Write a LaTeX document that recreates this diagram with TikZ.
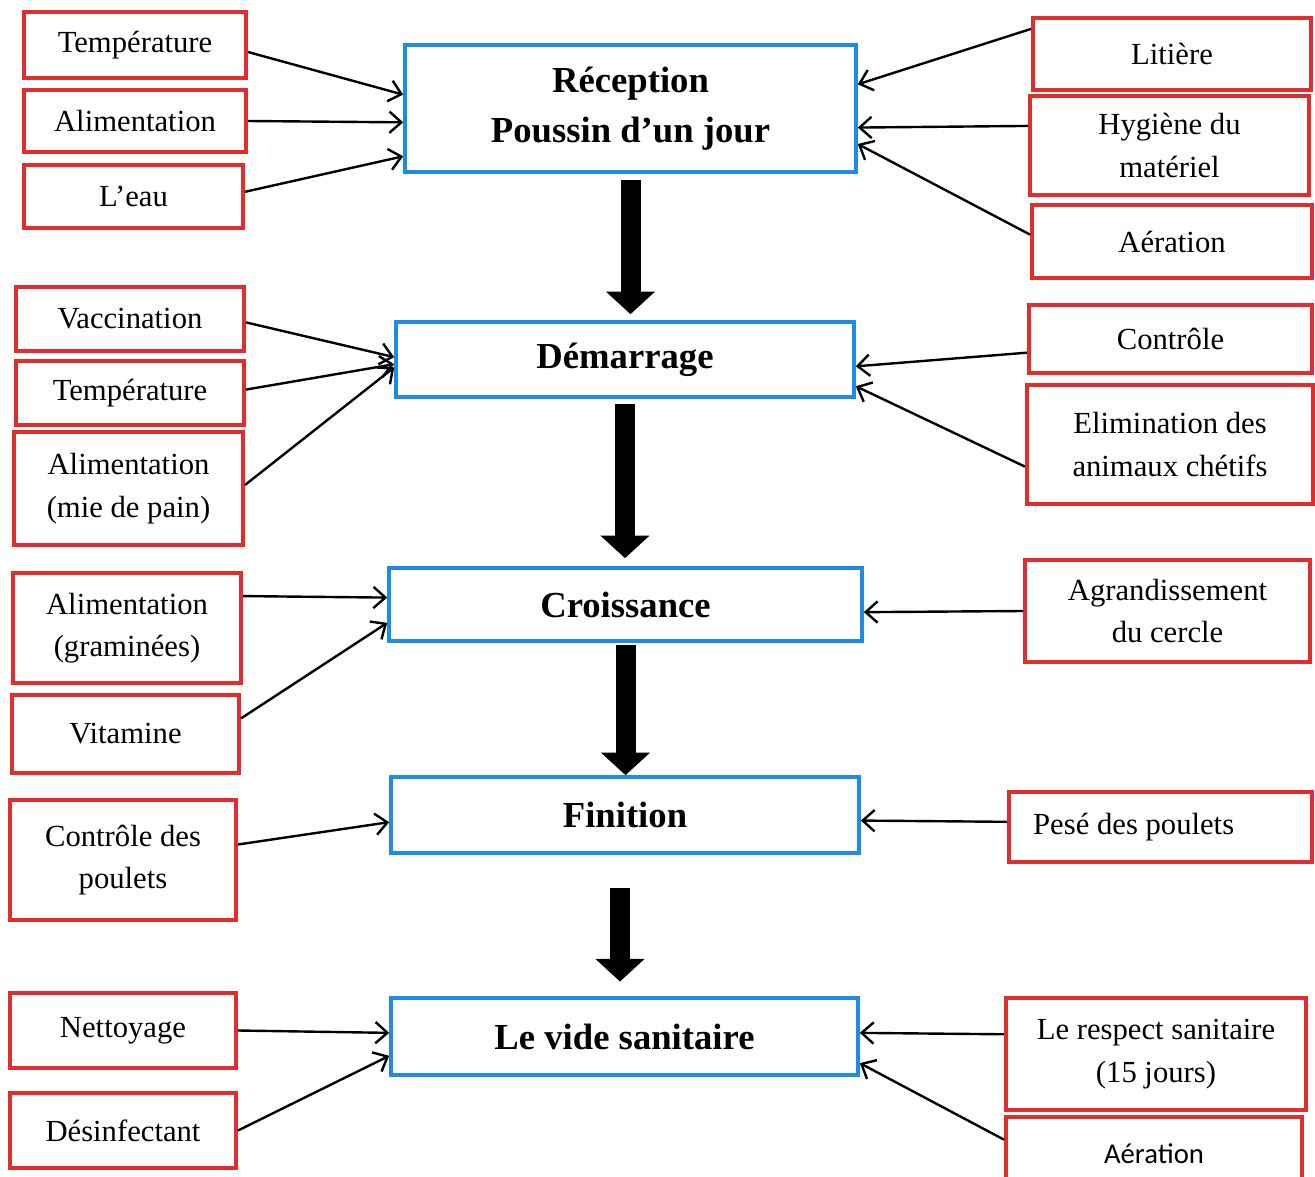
\documentclass[tikz,border=0pt]{standalone}
\usepackage{fontspec}
\setmainfont{Liberation Serif}
\newfontfamily\calibrifont{Carlito}
\usetikzlibrary{arrows.meta,calc}
\definecolor{boxred}{RGB}{224,46,46}
\definecolor{boxblue}{RGB}{30,140,228}
\tikzset{
  sz/.style 2 args={minimum width=#1*0.75pt, minimum height=#2*0.75pt},
  factor/.style={draw=boxred, line width=3pt, fill=white, inner sep=0pt,
    align=center, font=\fontsize{23}{32}\selectfont},
  stage/.style={draw=boxblue, line width=2.7pt, fill=white, inner sep=0pt,
    align=center, font=\bfseries\fontsize{27.5}{37.5}\selectfont},
  link/.style={line width=1.8pt, -{Straight Barb[length=9pt,width=16pt,line width=1.8pt]}},
  flow/.style={line width=15pt, -{Triangle[length=17pt,width=36pt]}}
}

\begin{document}
\begin{tikzpicture}[x=0.75pt,y=-0.75pt]
\useasboundingbox (0,0) rectangle (1315,1177);

% main stages
\node[stage, sz={451}{127}] (rec) at (630.5,108.5) {Réception\\Poussin d’un jour};
\node[stage, sz={458}{75}]  (dem) at (625,359.5) {Démarrage};
\node[stage, sz={473}{73}]  (cro) at (625.5,604.5) {Croissance};
\node[stage, sz={468}{76}]  (fin) at (625,815) {Finition};
\node[stage, sz={467}{77}]  (vid) at (624.5,1036.5) {Le vide sanitaire};

% factors, left column
\node[factor, sz={222}{66}]  (t1)  at (135,45) {Température};
\node[factor, sz={222}{62}]  (a1)  at (135,121) {Alimentation};
\node[factor, sz={219}{63}]  (e1)  at (133.5,196.5) {L’eau};
\node[factor, sz={228}{64}]  (vac) at (130,319) {Vaccination};
\node[factor, sz={228}{64}]  (t2)  at (130,393) {Température};
\node[factor, sz={229}{113}] (a2)  at (128.5,488.5) {Alimentation\\(mie de pain)};
\node[factor, sz={228}{110}] (a3)  at (127,628) {Alimentation\\(graminées)};
\node[factor, sz={227}{78}]  (vit) at (125.5,734) {Vitamine};
\node[factor, sz={226}{120}] (cp)  at (123,860) {Contrôle des\\poulets};
\node[factor, sz={226}{75}]  (net) at (123,1030.5) {Nettoyage};
\node[factor, sz={226}{75}]  (des) at (123,1130.5) {Désinfectant};

% factors, right column
\node[factor, sz={278}{72}]  (lit)  at (1172,54) {Litière};
\node[factor, sz={279}{99}]  (hyg)  at (1169.5,145.5) {Hygiène du\\matériel};
\node[factor, sz={280}{73}]  (aer1) at (1172,241.5) {Aération};
\node[factor, sz={283}{68}]  (ctl)  at (1170.5,339) {Contrôle};
\node[factor, sz={286}{119}] (eli)  at (1170,444.5) {Elimination des\\animaux chétifs};
\node[factor, sz={285}{102}] (agr)  at (1167.5,611) {Agrandissement\\du cercle};
\node[factor, sz={303}{70}] (pes) at (1160.5,827) {\makebox[191pt][l]{Pesé des poulets}};
\node[factor, sz={300}{112}] (res)  at (1156,1054) {Le respect sanitaire\\(15 jours)};
\node[factor, sz={296}{73}, font=\calibrifont\fontsize{21.5}{26}\selectfont] (aer2) at (1154,1153.5) {Aération};

% flow between stages
\draw[flow, shorten <=4.5pt, shorten >=4.5pt] (rec.south) -- (rec.south |- dem.north);
\draw[flow, shorten <=3.8pt, shorten >=6pt] (dem.south) -- (dem.south |- cro.north);
\draw[flow, shorten <=1.5pt, shorten >=0pt] (cro.south) -- (cro.south |- fin.north);
\draw[flow, shorten <=25pt, shorten >=11pt] ([xshift=-3.75pt]fin.south) -- ([xshift=-3.75pt]fin.south |- vid.north);

% Réception
\draw[link] ($(t1.north east)!0.6!(t1.south east)$) -- ($(rec.north west)!0.394!(rec.south west)$);
\draw[link] (a1.east) -- ($(rec.north west)!0.606!(rec.south west)$);
\draw[link] ($(e1.north east)!0.43!(e1.south east)$) -- ($(rec.north west)!0.866!(rec.south west)$);
\draw[link] ($(lit.north west)!0.17!(lit.south west)$) -- ($(rec.north east)!0.315!(rec.south east)$);
\draw[link] ($(hyg.north west)!0.31!(hyg.south west)$) -- ($(rec.north east)!0.646!(rec.south east)$);
\draw[link] ($(aer1.north west)!0.41!(aer1.south west)$) -- ($(rec.north east)!0.772!(rec.south east)$);

% Démarrage
\draw[link] ($(vac.north east)!0.55!(vac.south east)$) -- ($(dem.north west)!0.47!(dem.south west)$);
\draw[link] ($(t2.north east)!0.45!(t2.south east)$) -- ($(dem.north west)!0.56!(dem.south west)$);
\draw[link] ($(a2.north east)!0.47!(a2.south east)$) -- ($(dem.north west)!0.6!(dem.south west)$);
\draw[link] ($(ctl.north west)!0.69!(ctl.south west)$) -- ($(dem.north east)!0.587!(dem.south east)$);
\draw[link] ($(eli.north west)!0.68!(eli.south west)$) -- ($(dem.north east)!0.84!(dem.south east)$);

% Croissance
\draw[link] ($(a3.north east)!0.22!(a3.south east)$) -- ($(cro.north west)!0.41!(cro.south west)$);
\draw[link] ($(vit.north east)!0.31!(vit.south east)$) -- ($(cro.north west)!0.74!(cro.south west)$);
\draw[link] (agr.west) -- ($(cro.north east)!0.6!(cro.south east)$);

% Finition
\draw[link] ($(cp.north east)!0.375!(cp.south east)$) -- ($(fin.north west)!0.59!(fin.south west)$);
\draw[link] ($(pes.north west)!0.43!(pes.south west)$) -- ($(fin.north east)!0.57!(fin.south east)$);

% Le vide sanitaire
\draw[link] (net.east) -- ($(vid.north west)!0.455!(vid.south west)$);
\draw[link] (des.east) -- ($(vid.north west)!0.74!(vid.south west)$);
\draw[link] ($(res.north west)!0.33!(res.south west)$) -- ($(vid.north east)!0.455!(vid.south east)$);
\draw[link] ($(aer2.north west)!0.32!(aer2.south west)$) -- ($(vid.north east)!0.83!(vid.south east)$);
\end{tikzpicture}
\end{document}
